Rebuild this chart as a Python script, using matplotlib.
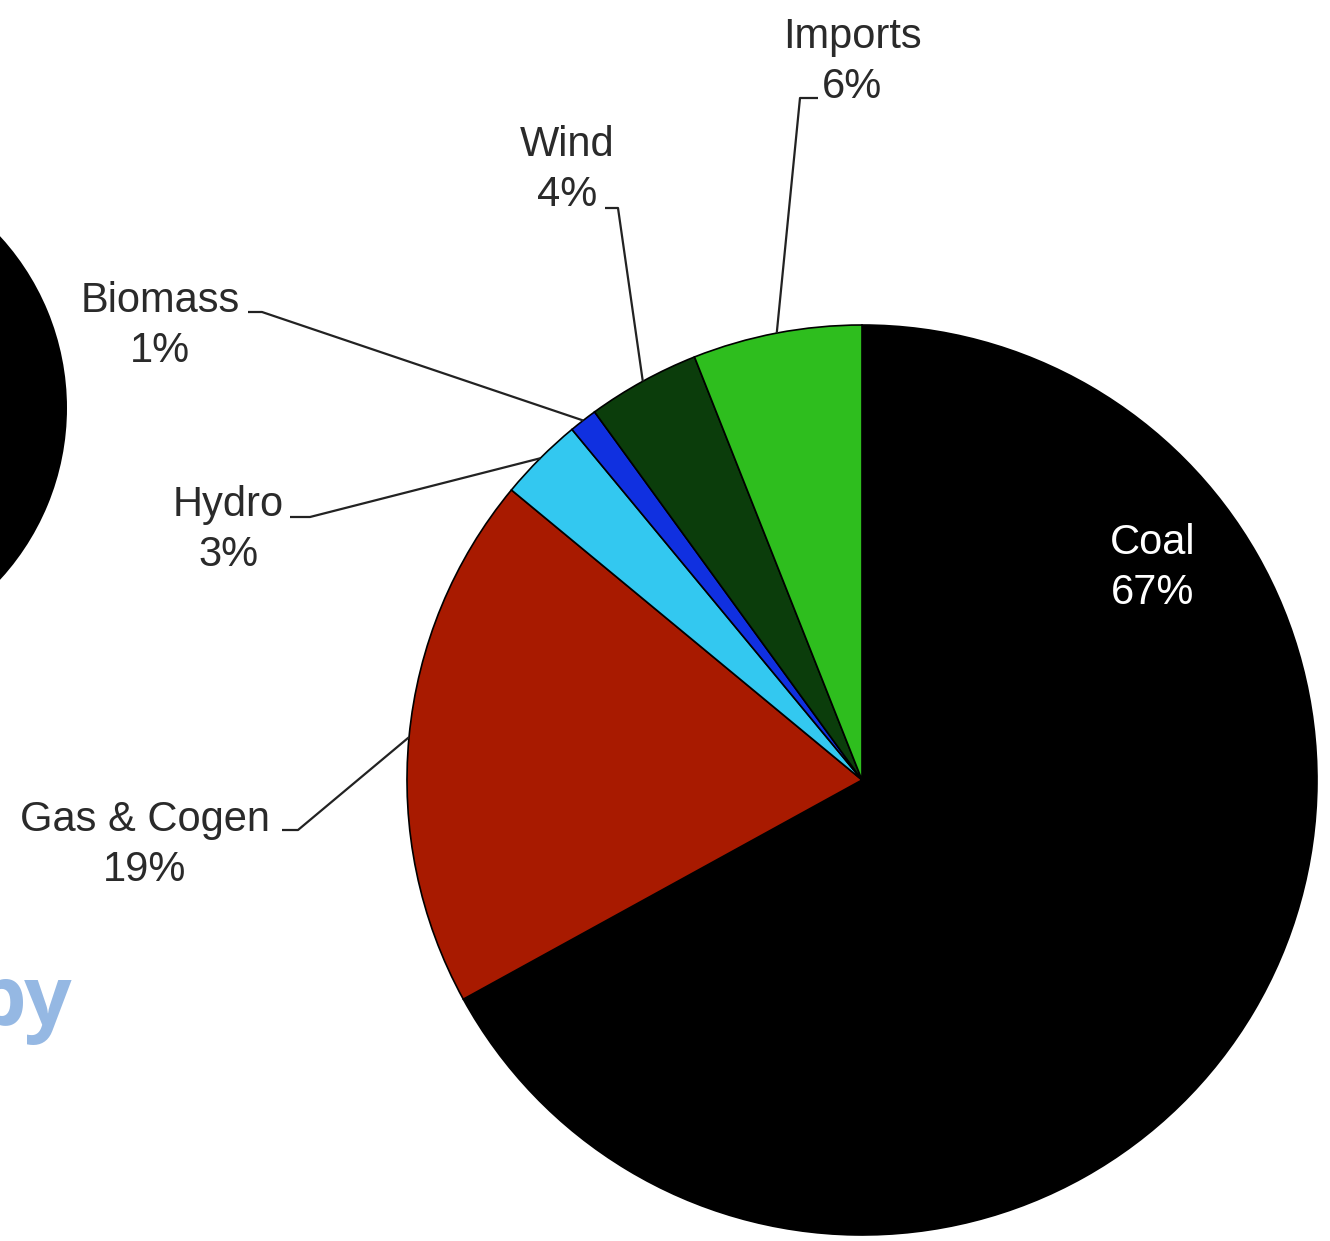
import numpy as np
import matplotlib.pyplot as plt

# generation mix, percent of total
sources = ['Coal', 'Gas & Cogen', 'Hydro', 'Biomass', 'Wind', 'Imports']
shares = [67, 19, 3, 1, 4, 6]
colors = ['#000000', '#A81A00', '#33C8F0', '#1030E0', '#0B3D0B', '#2EBE1E']

W, H = 1330, 1241
fig = plt.figure(figsize=(W / 100, H / 100), dpi=100)
ax = fig.add_axes([0, 0, 1, 1])

# neighbouring chart, mostly cut off at the left edge
ax.pie([100], colors=['#000000'], center=(-187, H - 408), radius=254,
       frame=True, wedgeprops=dict(linewidth=0))

cx, cy, r = 862, H - 780, 455
wedges, _ = ax.pie(shares, colors=colors, startangle=90, counterclock=False,
                   center=(cx, cy), radius=r, frame=True,
                   wedgeprops=dict(edgecolor='black', linewidth=1.2))
ax.set_xlim(0, W)
ax.set_ylim(0, H)
ax.set_aspect('equal')
ax.axis('off')

font = dict(family=['Liberation Sans', 'DejaVu Sans'], fontsize=30,
            ha='center', va='center', linespacing=1.3)

# label block centre, stub start, elbow (pixel coords, y from top)
layout = {
    'Imports': ((852, 62), (818, 98), (800, 98)),
    'Wind': ((567, 170), (605, 208), (618, 208)),
    'Biomass': ((160, 326), (248, 312), (262, 312)),
    'Hydro': ((228, 530), (290, 517), (310, 517)),
    'Gas & Cogen': ((145, 845), (282, 830), (298, 830)),
}

for w, name, pct in zip(wedges, sources, shares):
    label = f'{name}\n{pct}%'
    if name == 'Coal':
        ax.text(1153, H - 568, label, color='white', **font)
        continue
    (tx, ty), (sx, sy), (ex, ey) = layout[name]
    mid = np.deg2rad((w.theta1 + w.theta2) / 2)
    axp, ayp = cx + r * np.cos(mid), cy + r * np.sin(mid)
    ax.plot([sx, ex, axp], [H - sy, H - ey, ayp], color='#222222', lw=1.6,
            solid_capstyle='butt', zorder=3)
    ax.text(tx, H - ty, label, color='#2a2a2a', **font)

# title fragment, cut off at the left edge
ax.text(72, H - 1025, 'by', family=['Open Sans', 'DejaVu Sans'], fontweight='bold',
        fontsize=60, color='#95B8E3', ha='right', va='baseline')

fig.savefig('out.png', dpi=100)
